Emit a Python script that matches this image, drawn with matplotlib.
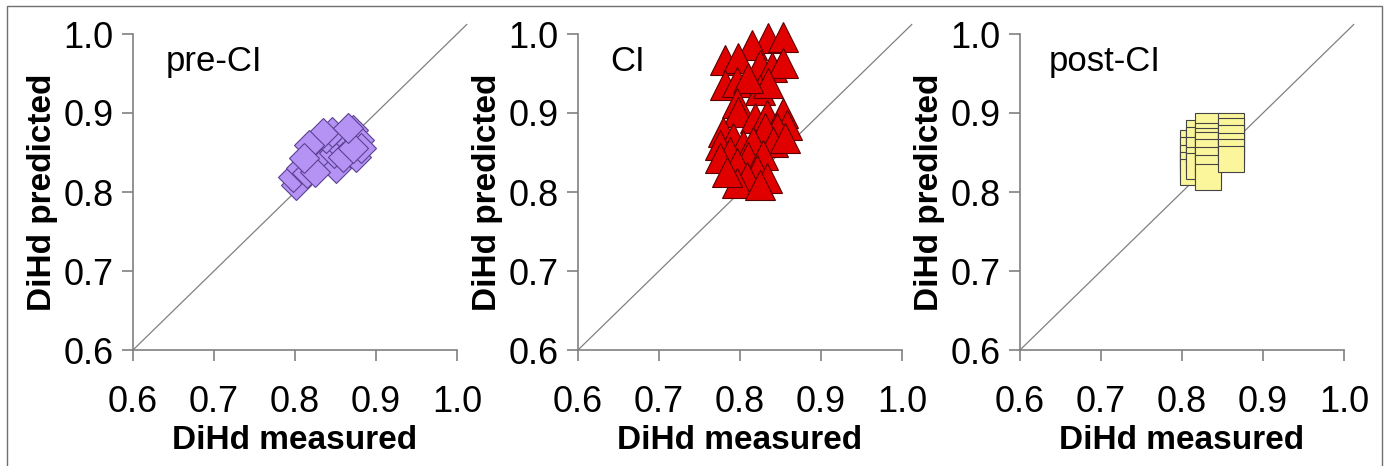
import numpy as np
import matplotlib
matplotlib.use('Agg')
import matplotlib.pyplot as plt
from matplotlib.patches import Rectangle

plt.rcParams['font.family'] = ['Liberation Sans', 'DejaVu Sans']

# pre-CI: measured vs predicted
pre_measured = [0.801, 0.797, 0.807, 0.815, 0.822, 0.829, 0.828, 0.840, 0.850, 0.848,
                0.854, 0.863, 0.872, 0.879, 0.875, 0.881, 0.859, 0.838, 0.846, 0.834,
                0.817, 0.825, 0.811, 0.871, 0.865]
pre_predicted = [0.809, 0.819, 0.830, 0.824, 0.851, 0.857, 0.838, 0.843, 0.830, 0.849,
                 0.859, 0.868, 0.878, 0.866, 0.844, 0.856, 0.844, 0.868, 0.876, 0.875,
                 0.859, 0.825, 0.843, 0.856, 0.881]

# CI
ci_measured = [0.835, 0.853, 0.815, 0.781, 0.798, 0.825, 0.840, 0.853, 0.781, 0.796,
               0.825, 0.835, 0.810, 0.796, 0.797, 0.818, 0.833, 0.853, 0.858, 0.846,
               0.831, 0.779, 0.791, 0.775, 0.804, 0.816, 0.841, 0.856, 0.788, 0.810,
               0.828, 0.775, 0.796, 0.821, 0.833, 0.809, 0.796, 0.825, 0.784]
ci_predicted = [0.995, 0.996, 0.986, 0.967, 0.970, 0.961, 0.958, 0.963, 0.935, 0.939,
                0.929, 0.938, 0.944, 0.913, 0.901, 0.894, 0.897, 0.900, 0.885, 0.881,
                0.881, 0.876, 0.868, 0.859, 0.859, 0.863, 0.863, 0.868, 0.851, 0.844,
                0.847, 0.843, 0.837, 0.828, 0.818, 0.819, 0.811, 0.809, 0.825]

# post-CI
post_measured = [0.813, 0.813, 0.813, 0.813, 0.813,
                 0.821, 0.821, 0.821, 0.821, 0.821,
                 0.832, 0.832, 0.832, 0.832, 0.832, 0.832, 0.832, 0.832,
                 0.860, 0.860, 0.860, 0.860, 0.860, 0.860]
post_predicted = [0.862, 0.853, 0.843, 0.834, 0.825,
                  0.875, 0.866, 0.853, 0.841, 0.833,
                  0.884, 0.871, 0.865, 0.859, 0.851, 0.841, 0.830, 0.819,
                  0.884, 0.877, 0.868, 0.858, 0.851, 0.842]

panel_labels = ['pre-CI', 'CI', 'post-CI']
ticks = [0.6, 0.7, 0.8, 0.9, 1.0]
tick_labels = ['0.6', '0.7', '0.8', '0.9', '1.0']

W, H = 1392, 466
fig = plt.figure(figsize=(W / 100, H / 100), dpi=100)

lefts = [133, 578, 1020]
series = [
    (pre_measured, pre_predicted, 'D', 15, '#b593f5', '#5b4290'),
    (ci_measured, ci_predicted, '^', 21, '#e00000', '#5a0000'),
    (post_measured, post_predicted, 's', 19, '#fbf59c', '#444444'),
]
label_x = [0.64, 0.64, 0.635]

for i in range(3):
    ax = fig.add_axes([lefts[i] / W, 1 - 350 / H, 324 / W, 316 / H])
    xs, ys, mk, ms, fc, ec = series[i]
    ax.plot([0.6, 1.012], [0.6, 1.012], color='#808080', lw=0.9, clip_on=False, zorder=1)
    ax.plot(xs, ys, ls='none', marker=mk, ms=ms, mfc=fc, mec=ec, mew=0.8, zorder=3,
            clip_on=False)
    ax.set_xlim(0.6, 1.0)
    ax.set_ylim(0.6, 1.0)
    ax.set_xticks(ticks)
    ax.set_xticklabels(tick_labels)
    ax.set_yticks(ticks)
    ax.set_yticklabels(tick_labels)
    for s in ['top', 'right']:
        ax.spines[s].set_visible(False)
    for s in ['left', 'bottom']:
        ax.spines[s].set_color('#808080')
        ax.spines[s].set_linewidth(1.2)
    ax.tick_params(axis='both', direction='out', length=8, width=1.2, color='#808080',
                   labelsize=26)
    ax.tick_params(axis='x', pad=17)
    ax.tick_params(axis='y', pad=6)
    ax.set_xlabel('DiHd measured', fontsize=24, fontweight='bold', labelpad=4)
    ax.set_ylabel('DiHd predicted', fontsize=24, fontweight='bold', labelpad=4)
    ax.text(label_x[i], 0.965, panel_labels[i], fontsize=25, va='center', ha='left')
    ax.patch.set_visible(False)

fig.patches.append(Rectangle((7 / W, -0.01), (1382 - 7) / W, 1 - 6 / H + 0.01,
                             transform=fig.transFigure, fill=False,
                             edgecolor='#707070', lw=1.0))

fig.savefig('out.png', dpi=100)
